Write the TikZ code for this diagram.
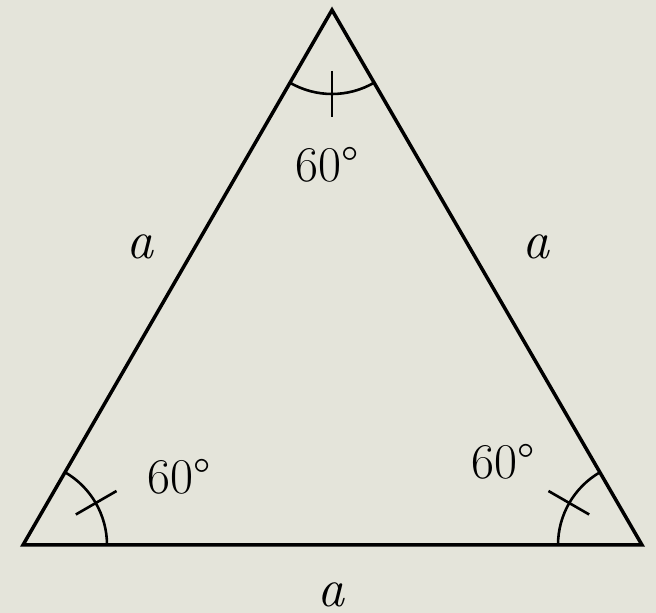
\documentclass[tikz,border=0pt]{standalone}
\begin{document}
\definecolor{bgc}{RGB}{228,228,218}
\begin{tikzpicture}[x=1pt,y=1pt,
  side/.style={line width=3.5pt,line join=miter},
  angarc/.style={line width=2.6pt},
  lbl/.style={inner sep=0pt,font=\fontsize{50}{60}\selectfont},
  sidelbl/.style={inner sep=0pt,font=\fontsize{54}{60}\selectfont\itshape}]
\fill[bgc] (0,0) rectangle (656,613);
\useasboundingbox (0,0) rectangle (656,613);
\coordinate (A) at (332,603);
\coordinate (B) at (23,68);
\coordinate (C) at (642,68);
\draw[side] (A) -- (B) -- (C) -- cycle;
% angle arcs
\draw[angarc] ([shift={(0:84pt)}]B) arc[start angle=0,end angle=60,radius=84pt];
\draw[angarc] ([shift={(120:84pt)}]C) arc[start angle=120,end angle=180,radius=84pt];
\draw[angarc] ([shift={(240:84pt)}]A) arc[start angle=240,end angle=300,radius=84pt];
% ticks
\draw[angarc] ([shift={(30:61pt)}]B) -- ([shift={(30:108pt)}]B);
\draw[angarc] ([shift={(150:61pt)}]C) -- ([shift={(150:108pt)}]C);
\draw[angarc] ([shift={(270:61pt)}]A) -- ([shift={(270:107pt)}]A);
% labels
\node[lbl] (tA) at (327,448) {60\textdegree};
\node[lbl] (tB) at (179,136) {60\textdegree};
\node[lbl] (tC) at (503,151) {60\textdegree};
\node[sidelbl] (sl) at (140,366) {a};
\node[sidelbl] (sr) at (536,366) {a};
\node[sidelbl] (sb) at (331,18) {a};
\end{tikzpicture}
\end{document}
